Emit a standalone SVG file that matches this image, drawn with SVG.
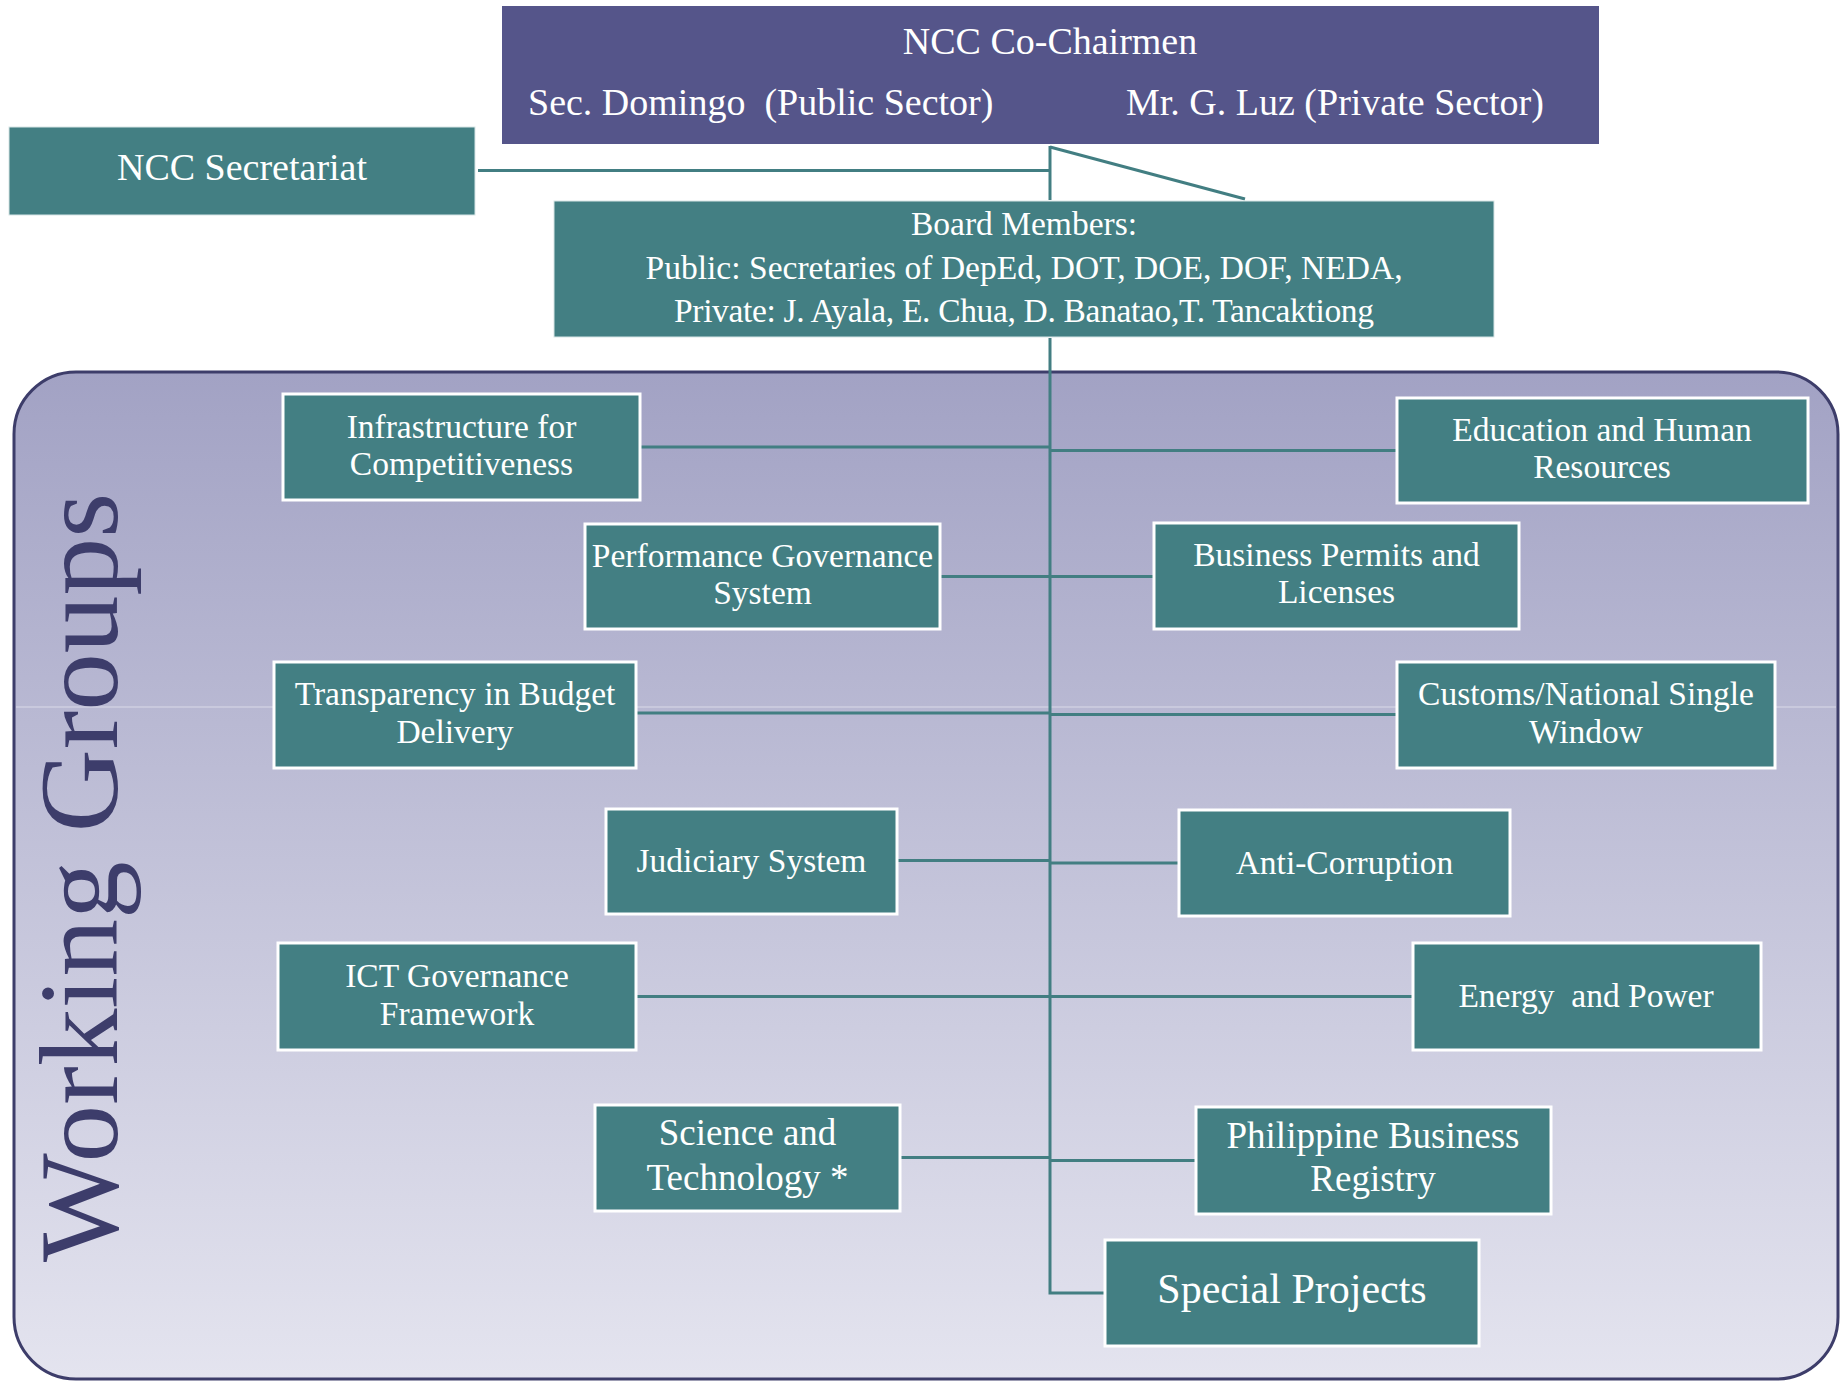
<svg xmlns="http://www.w3.org/2000/svg" width="1843" height="1382" viewBox="0 0 1843 1382">
<defs>
<linearGradient id="panelGrad" x1="0" y1="0" x2="0" y2="1">
<stop offset="0" stop-color="#a2a2c4"/>
<stop offset="1" stop-color="#e4e4ef"/>
</linearGradient>
</defs>
<style>
.node rect{fill:#437f83;stroke:#ffffff;stroke-width:3}
.head rect{fill:#437f83;stroke:#d7e6e6;stroke-width:1}
.t{font-family:"Liberation Serif","DejaVu Serif",serif;fill:#ffffff;text-anchor:middle;font-size:33.5px}
.big{font-size:37px}
.huge{font-size:42px}
.hdr{font-family:"Liberation Serif","DejaVu Serif",serif;fill:#ffffff;font-size:38px}
.conn line,.conn polyline{stroke:#427e82;stroke-width:3;fill:none}
</style>
<rect width="1843" height="1382" fill="#ffffff"/>
<g id="working-groups-panel">
<rect x="14" y="372" width="1824" height="1007" rx="62" ry="62" fill="url(#panelGrad)" stroke="#3d3d6a" stroke-width="3"/>
<line x1="16" y1="707" x2="1836" y2="707" stroke="#dadae8" stroke-width="1"/>
<text transform="translate(117,1262) rotate(-90)" font-family="Liberation Serif, DejaVu Serif, serif" font-size="112" fill="#3d3d6b" textLength="769" lengthAdjust="spacingAndGlyphs">Working Groups</text>
</g>
<g class="conn" id="connectors">
<line x1="478" y1="170.5" x2="1050" y2="170.5"/>
<line x1="1050" y1="146" x2="1050" y2="200"/>
<line x1="1050" y1="147" x2="1245" y2="199"/>
<polyline points="1050,338 1050,1293 1105,1293"/>
<line x1="640" y1="447" x2="1050" y2="447"/>
<line x1="1050" y1="450.5" x2="1397" y2="450.5"/>
<line x1="940" y1="576.5" x2="1154" y2="576.5"/>
<line x1="636" y1="713" x2="1050" y2="713"/>
<line x1="1050" y1="714.5" x2="1397" y2="714.5"/>
<line x1="897" y1="860.5" x2="1050" y2="860.5"/>
<line x1="1050" y1="863" x2="1179" y2="863"/>
<line x1="636" y1="996.5" x2="1413" y2="996.5"/>
<line x1="900" y1="1157.5" x2="1050" y2="1157.5"/>
<line x1="1050" y1="1160.5" x2="1196" y2="1160.5"/>
</g>
<g id="co-chairmen">
<rect x="502" y="6" width="1097" height="138" fill="#55558a"/>
<text class="hdr" x="1050" y="54" text-anchor="middle">NCC Co-Chairmen</text>
<text class="hdr" x="528" y="115" xml:space="preserve" style="white-space:pre">Sec. Domingo  (Public Sector)</text>
<text class="hdr" x="1126" y="115">Mr. G. Luz (Private Sector)</text>
</g>
<g id="secretariat" class="head">
<rect x="9" y="127" width="466" height="88"/>
<text class="hdr" x="242" y="180" text-anchor="middle">NCC Secretariat</text>
</g>
<g id="board-members" class="head">
<rect x="554" y="201" width="940" height="136"/>
<text class="t" x="1024" y="235">Board Members:</text>
<text class="t" x="1024" y="279" textLength="757">Public: Secretaries of DepEd, DOT, DOE, DOF, NEDA,</text>
<text class="t" x="1024" y="322" textLength="700">Private: J. Ayala, E. Chua, D. Banatao,T. Tancaktiong</text>
</g>
<g id="infrastructure" class="node">
<rect x="283" y="394" width="357" height="106"/>
<text class="t" x="461.5" y="438">Infrastructure for</text>
<text class="t" x="461.5" y="475">Competitiveness</text>
</g>
<g id="education" class="node">
<rect x="1397" y="398" width="411" height="105"/>
<text class="t" x="1602" y="441">Education and Human</text>
<text class="t" x="1602" y="478">Resources</text>
</g>
<g id="performance" class="node">
<rect x="585" y="524" width="355" height="105"/>
<text class="t" x="762.5" y="567">Performance Governance</text>
<text class="t" x="762.5" y="604">System</text>
</g>
<g id="business-permits" class="node">
<rect x="1154" y="523" width="365" height="106"/>
<text class="t" x="1336.5" y="566">Business Permits and</text>
<text class="t" x="1336.5" y="603">Licenses</text>
</g>
<g id="transparency" class="node">
<rect x="274" y="662" width="362" height="106"/>
<text class="t" x="455" y="705">Transparency in Budget</text>
<text class="t" x="455" y="743">Delivery</text>
</g>
<g id="customs" class="node">
<rect x="1397" y="662" width="378" height="106"/>
<text class="t" x="1586" y="705">Customs/National Single</text>
<text class="t" x="1586" y="743">Window</text>
</g>
<g id="judiciary" class="node">
<rect x="606" y="809" width="291" height="105"/>
<text class="t" x="751.5" y="872">Judiciary System</text>
</g>
<g id="anti-corruption" class="node">
<rect x="1179" y="810" width="331" height="106"/>
<text class="t" x="1344.5" y="874">Anti-Corruption</text>
</g>
<g id="ict" class="node">
<rect x="278" y="943" width="358" height="107"/>
<text class="t" x="457" y="987">ICT Governance</text>
<text class="t" x="457" y="1025">Framework</text>
</g>
<g id="energy" class="node">
<rect x="1413" y="943" width="348" height="107"/>
<text class="t" x="1586" y="1007" xml:space="preserve" style="white-space:pre">Energy  and Power</text>
</g>
<g id="science" class="node">
<rect x="595" y="1105" width="305" height="106"/>
<text class="t big" x="747.5" y="1145">Science and</text>
<text class="t big" x="747.5" y="1190">Technology *</text>
</g>
<g id="philippine-business-registry" class="node">
<rect x="1196" y="1107" width="355" height="107"/>
<text class="t big" x="1373" y="1148">Philippine Business</text>
<text class="t big" x="1373" y="1191">Registry</text>
</g>
<g id="special-projects" class="node">
<rect x="1105" y="1240" width="374" height="106"/>
<text class="t huge" x="1292" y="1303">Special Projects</text>
</g>
</svg>
